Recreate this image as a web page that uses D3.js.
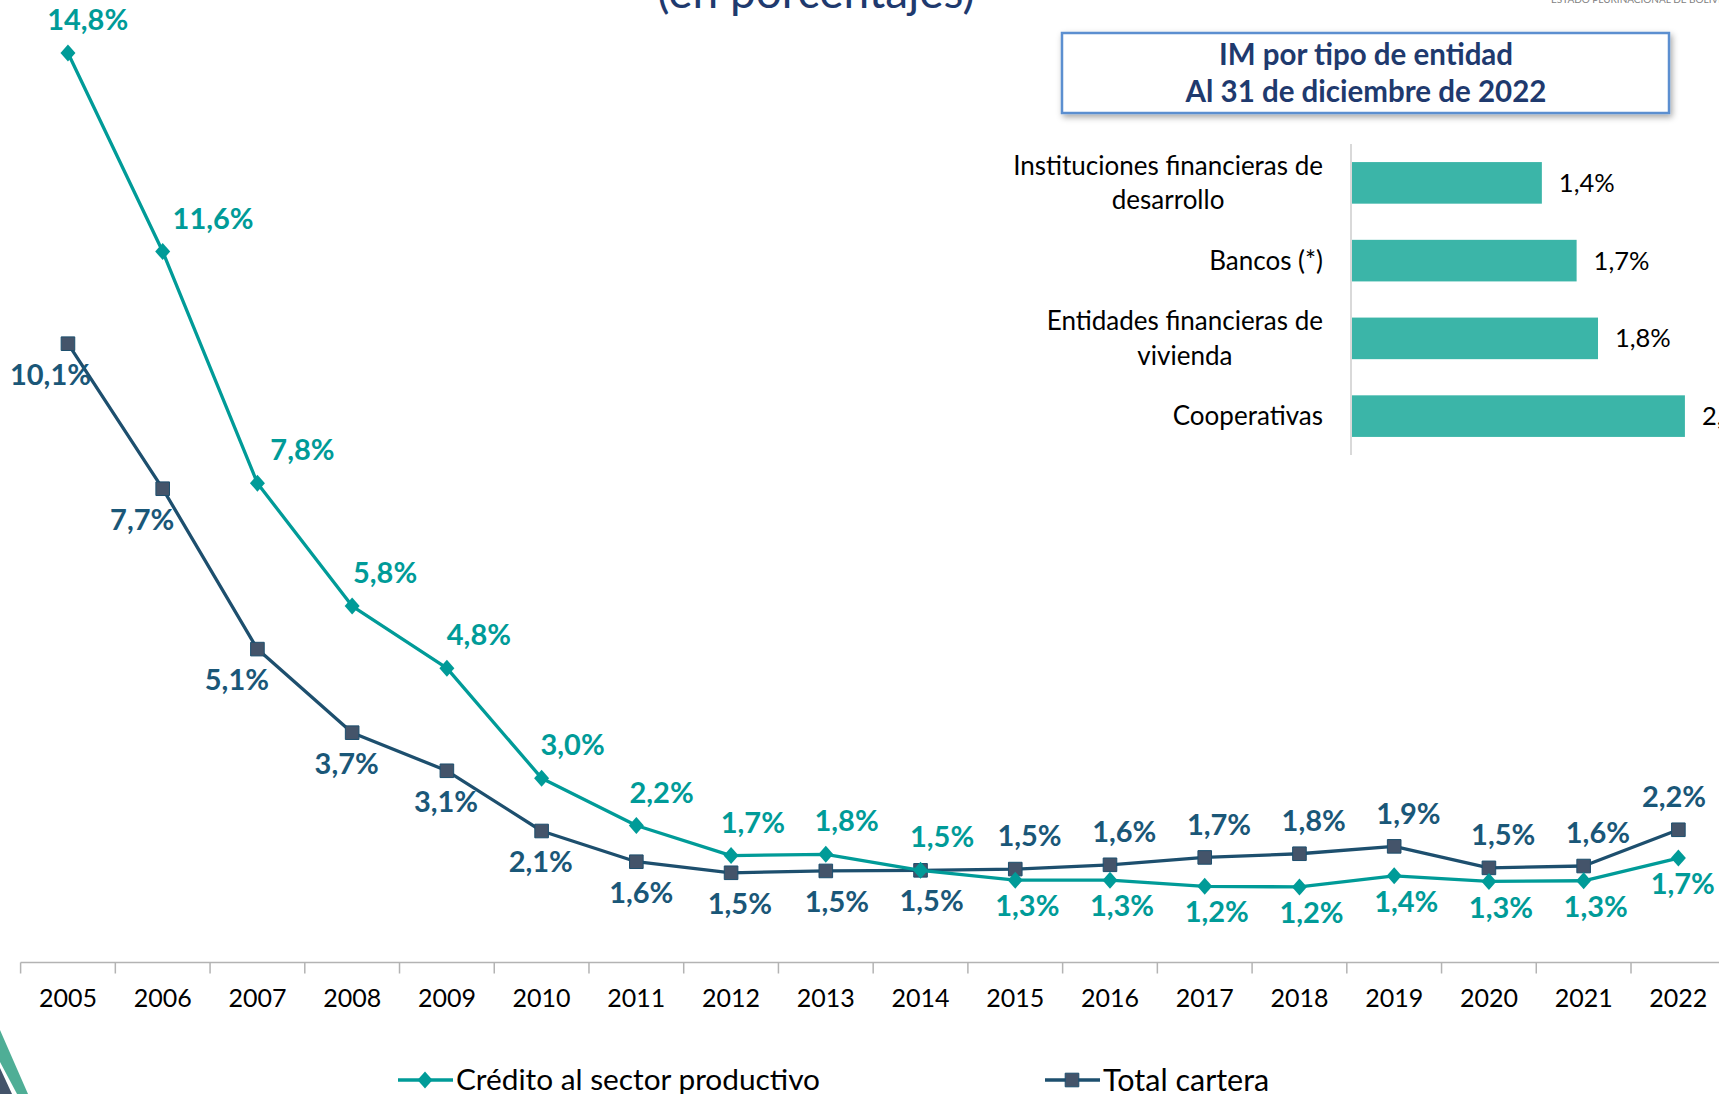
<!DOCTYPE html>
<html>
<head>
    <meta charset="utf-8">
    <script src="https://cdn.jsdelivr.net/npm/d3@7"></script>
    <title>Índice de mora</title>
    <style>
        body { margin: 0; background: #fff; }
        svg { display: block; font-family: Lato, "Open Sans", sans-serif; }
    </style>
</head>
<body>
    <div id="chart"></div>
    <script>
        // serie anual (en porcentajes)
        var years = ['2005','2006','2007','2008','2009','2010','2011','2012','2013','2014','2015','2016','2017','2018','2019','2020','2021','2022']
        var credito = [14.8, 11.57, 7.8, 5.8, 4.79, 3.0, 2.23, 1.74, 1.76, 1.5, 1.34, 1.34, 1.24, 1.23, 1.41, 1.32, 1.33, 1.7]
        var cartera = [10.07, 7.71, 5.1, 3.74, 3.12, 2.14, 1.64, 1.46, 1.49, 1.5, 1.52, 1.59, 1.71, 1.77, 1.89, 1.54, 1.57, 2.16]
        var seriesNames = ['Crédito al sector productivo', 'Total cartera']

        // recuadro: IM por tipo de entidad
        var entidades = [['Instituciones financieras de', 'desarrollo'], ['Bancos (*)'], ['Entidades financieras de', 'vivienda'], ['Cooperativas']]
        var imEntidad = [1.42, 1.68, 1.84, 2.49]

        var W = 1719, H = 1094
        var teal = '#009b98', navy = '#1d4f6e', navyLabel = '#1a5778', squareFill = '#44546a'

        var svg = d3.select('#chart').append('svg').attr('width', W).attr('height', H)

        var fmt = function (v) { return d3.format('.1f')(v).replace('.', ',') + '%' }

        // titulo (cortado arriba)
        svg.append('text').attr('x', 816).attr('y', 8).attr('text-anchor', 'middle')
            .attr('font-size', 46).attr('fill', '#1f3a6e').text('(en porcentajes)')
        svg.append('text').attr('x', 1551).attr('y', 3).attr('font-size', 10).attr('fill', '#7f7f7f')
            .text('ESTADO PLURINACIONAL DE BOLIVIA')

        // decoracion esquina
        svg.append('polygon').attr('points', '0,1068 0,1094 12,1094').attr('fill', '#44546a')
        svg.append('polygon').attr('points', '0,1030 0,1062 17,1094 28,1094').attr('fill', '#4fae96')

        // escalas
        var x = d3.scaleBand().domain(years).range([20.6, 20.6 + 18 * 94.73])
        var y = d3.scaleLinear().domain([0, 15]).range([962.5, 962.5 - 15 * 61.45])
        var cx = function (d, i) { return x(years[i]) + x.bandwidth() / 2 }

        // eje x
        var xAxis = svg.append('g').attr('transform', 'translate(0,962.5)')
        xAxis.append('line').attr('x1', 20.6).attr('x2', W).attr('stroke', '#b3b3b3').attr('stroke-width', 1.5)
        xAxis.selectAll('line.tick').data(years.concat(['end'])).enter().append('line')
            .attr('class', 'tick')
            .attr('x1', function (d, i) { return 20.6 + i * x.step() })
            .attr('x2', function (d, i) { return 20.6 + i * x.step() })
            .attr('y1', 0).attr('y2', 11).attr('stroke', '#b3b3b3').attr('stroke-width', 1.5)
        xAxis.selectAll('text').data(years).enter().append('text')
            .attr('x', function (d) { return x(d) + x.bandwidth() / 2 })
            .attr('y', 36).attr('dy', '0.35em').attr('text-anchor', 'middle')
            .attr('font-size', 25).attr('fill', '#000').text(function (d) { return d })

        var line = d3.line().x(cx).y(function (d) { return y(d) })

        function drawSeries(data, color, marker) {
            svg.append('path').datum(data).attr('d', line)
                .attr('fill', 'none').attr('stroke', color).attr('stroke-width', 3.3).attr('stroke-linejoin', 'round')
            var m = svg.append('g').selectAll('path').data(data).enter().append('path')
                .attr('transform', function (d, i) { return 'translate(' + cx(d, i) + ',' + y(d) + ')' })
            if (marker == 'diamond') {
                m.attr('d', 'M0,-8.5L7.5,0L0,8.5L-7.5,0Z').attr('fill', teal)
            } else {
                m.attr('d', 'M-6.8,-6.8H6.8V6.8H-6.8Z').attr('fill', squareFill).attr('stroke', navy).attr('stroke-width', 1)
            }
        }
        drawSeries(cartera, navy, 'square')
        drawSeries(credito, teal, 'diamond')

        // etiquetas de datos: hasta 2014 credito arriba / cartera abajo, luego al reves
        var k = 1.0963
        var last = years.length - 1
        // caida alrededor del punto (para separar la etiqueta de la linea en los tramos empinados)
        function drop(data, i) {
            if (i == 0 || i == last) return 0
            return data[i - 1] - data[i + 1]
        }
        function steep(data, i) {
            var a = i > 0 ? data[i - 1] - data[i] : 0
            var b = i < last ? data[i] - data[i + 1] : 0
            return Math.max(a, b)
        }
        svg.append('g').selectAll('text').data(credito).enter().append('text')
            .attr('x', function (d, i) {
                if (i == last) return cx(d, i) + 4 * k
                return cx(d, i) + (i <= 9 ? (18 + 4 * drop(credito, i)) * k : 11 * k)
            })
            .attr('y', function (d, i) { return y(d) + (i <= 9 ? -33 : 26) })
            .attr('dy', '0.35em').attr('text-anchor', 'middle')
            .attr('font-size', 29).attr('font-weight', 'bold').attr('fill', teal)
            .text(fmt)
        svg.append('g').selectAll('text').data(cartera).enter().append('text')
            .attr('x', function (d, i) {
                if (i == last) return cx(d, i) - 4 * k
                return cx(d, i) + (i <= 9 ? Math.max(-26, 10 - 11 * steep(cartera, i)) * k : 13 * k)
            })
            .attr('y', function (d, i) { return y(d) + (i <= 9 ? 31 : -33) })
            .attr('dy', '0.35em').attr('text-anchor', 'middle')
            .attr('font-size', 29).attr('font-weight', 'bold').attr('fill', navyLabel)
            .text(fmt)

        // leyenda
        var legend = svg.append('g')
        legend.append('line').attr('x1', 398).attr('x2', 453).attr('y1', 1080).attr('y2', 1080).attr('stroke', teal).attr('stroke-width', 3.3)
        legend.append('path').attr('d', 'M0,-8.5L7.5,0L0,8.5L-7.5,0Z').attr('transform', 'translate(425,1080)').attr('fill', teal)
        legend.append('text').attr('x', 456).attr('y', 1080).attr('dy', '0.35em').attr('font-size', 29.8).attr('fill', '#000').text(seriesNames[0])
        legend.append('line').attr('x1', 1045).attr('x2', 1100).attr('y1', 1080).attr('y2', 1080).attr('stroke', navy).attr('stroke-width', 3.3)
        legend.append('path').attr('d', 'M-6.8,-6.8H6.8V6.8H-6.8Z').attr('transform', 'translate(1072,1080)').attr('fill', squareFill).attr('stroke', navy)
        legend.append('text').attr('x', 1103).attr('y', 1080).attr('dy', '0.35em').attr('font-size', 30.5).attr('fill', '#000').text(seriesNames[1])

        // recuadro titulo
        var defs = svg.append('defs')
        var f = defs.append('filter').attr('id', 'shadow').attr('x', '-10%').attr('y', '-30%').attr('width', '120%').attr('height', '160%')
        f.append('feDropShadow').attr('dx', 2).attr('dy', 3).attr('stdDeviation', 3).attr('flood-color', '#000').attr('flood-opacity', 0.35)
        svg.append('rect').attr('x', 1062).attr('y', 33).attr('width', 607).attr('height', 80)
            .attr('fill', '#fff').attr('stroke', '#5b8fd0').attr('stroke-width', 2.5).attr('filter', 'url(#shadow)')
        svg.append('text').attr('x', 1366).attr('y', 55).attr('dy', '0.35em').attr('text-anchor', 'middle')
            .attr('font-size', 29.5).attr('font-weight', 'bold').attr('fill', '#1f3a6e').text('IM por tipo de entidad')
        svg.append('text').attr('x', 1366).attr('y', 92).attr('dy', '0.35em').attr('text-anchor', 'middle')
            .attr('font-size', 29.5).attr('font-weight', 'bold').attr('fill', '#1f3a6e').text('Al 31 de diciembre de 2022')

        // barras horizontales
        var yb = d3.scaleBand().domain(d3.range(entidades.length)).range([144, 455]).paddingInner(0.465).paddingOuter(0.2325)
        var xb = d3.scaleLinear().domain([0, 1]).range([1352, 1352 + 133.7])

        svg.append('g').selectAll('rect').data(imEntidad).enter().append('rect')
            .attr('x', xb(0)).attr('y', function (d, i) { return yb(i) })
            .attr('width', function (d) { return xb(d) - xb(0) }).attr('height', yb.bandwidth())
            .attr('fill', '#3bb5a8')
        svg.append('line').attr('x1', 1351).attr('x2', 1351).attr('y1', 144).attr('y2', 455)
            .attr('stroke', '#d9d9d9').attr('stroke-width', 2)
        svg.append('g').selectAll('text').data(imEntidad).enter().append('text')
            .attr('x', function (d) { return xb(d) + 17 })
            .attr('y', function (d, i) { return yb(i) + yb.bandwidth() / 2 })
            .attr('dy', '0.35em').attr('font-size', 25.5).attr('fill', '#000').text(fmt)

        var cat = svg.append('g').selectAll('text').data(entidades).enter().append('text')
            .attr('font-size', 26).attr('fill', '#000')
            .attr('y', function (d, i) { return yb(i) + yb.bandwidth() / 2 })
        cat.each(function (d) {
            var t = d3.select(this)
            d.forEach(function (s, j) {
                t.append('tspan').attr('x', 1323).attr('dy', j == 0 ? (0.35 - (d.length - 1) * 0.66) + 'em' : '1.32em')
                    .attr('text-anchor', d.length == 1 ? 'end' : 'middle').text(s)
            })
        })
        // los textos de dos lineas van centrados sobre el bloque alineado a la derecha
        cat.filter(function (d) { return d.length > 1 }).each(function (d) {
            var w = this.getBBox().width
            d3.select(this).selectAll('tspan').attr('x', 1323 - w / 2)
        })
    </script>
</body>
</html>
